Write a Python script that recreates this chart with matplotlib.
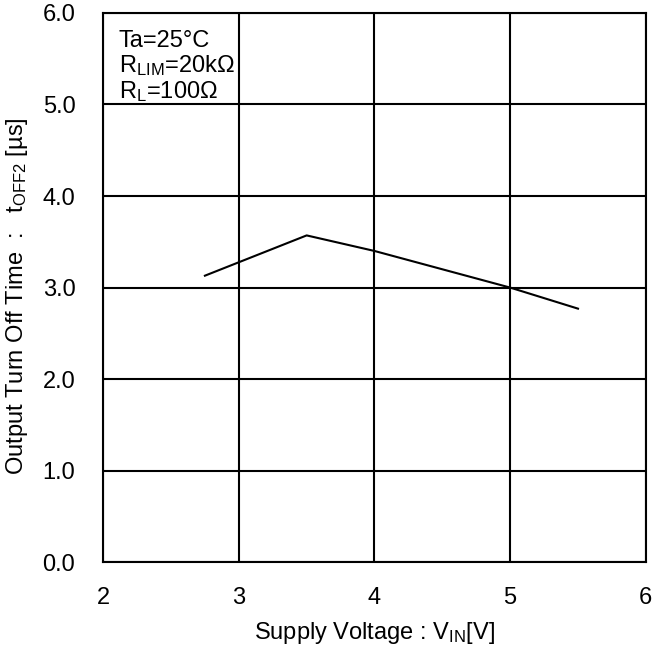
"""
Output turn off time vs supply voltage.
"""
import matplotlib
matplotlib.use('Agg')
import matplotlib.pyplot as plt

plt.rcParams['font.family'] = ['Liberation Sans', 'DejaVu Sans']
plt.rcParams['mathtext.fontset'] = 'custom'
plt.rcParams['mathtext.rm'] = 'Liberation Sans'
plt.rcParams['mathtext.it'] = 'Liberation Sans'

# data
vin = [2.75, 3.5, 4.0, 5.0, 5.5]
toff2 = [3.13, 3.57, 3.40, 3.00, 2.77]

x_ticks = [2, 3, 4, 5, 6]
y_ticks = [0.0, 1.0, 2.0, 3.0, 4.0, 5.0, 6.0]
conditions = ['Ta=25°C', r'R$_{\mathrm{LIM}}$=20kΩ', r'R$_{\mathrm{L}}$=100Ω']

fig = plt.figure(figsize=(6.57, 6.47), dpi=100)
ax = fig.add_axes([0.157, 0.131, 0.826, 0.849])

ax.plot(vin, toff2, color='black', linewidth=1.5)

ax.set_xlim(2, 6)
ax.set_ylim(0, 6)
ax.set_xticks(x_ticks)
ax.set_yticks(y_ticks)
ax.set_xticklabels([str(t) for t in x_ticks])
ax.set_yticklabels([f'{t:.1f}' for t in y_ticks])
ax.tick_params(axis='both', length=0, labelsize=17)
ax.tick_params(axis='x', pad=18)
ax.tick_params(axis='y', pad=20)
ax.grid(True, color='black', linewidth=1.5)
for sp in ax.spines.values():
    sp.set_linewidth(1.5)

ax.set_xlabel(r'Supply Voltage : V$_{\mathrm{IN}}$[V]', fontsize=17, va='center')
ax.set_ylabel(r'Output Turn Off Time  :   t$_{\mathrm{OFF2}}$ [µs]', fontsize=17,
              va='center')
ax.xaxis.set_label_coords(0.5, -0.128)
ax.yaxis.set_label_coords(-0.158, 0.484)

for i, line in enumerate(conditions):
    ax.text(0.029, 0.938 - i * 0.0463, line, transform=ax.transAxes,
            fontsize=17, va='baseline', ha='left')

fig.savefig('out.png', dpi=100)
